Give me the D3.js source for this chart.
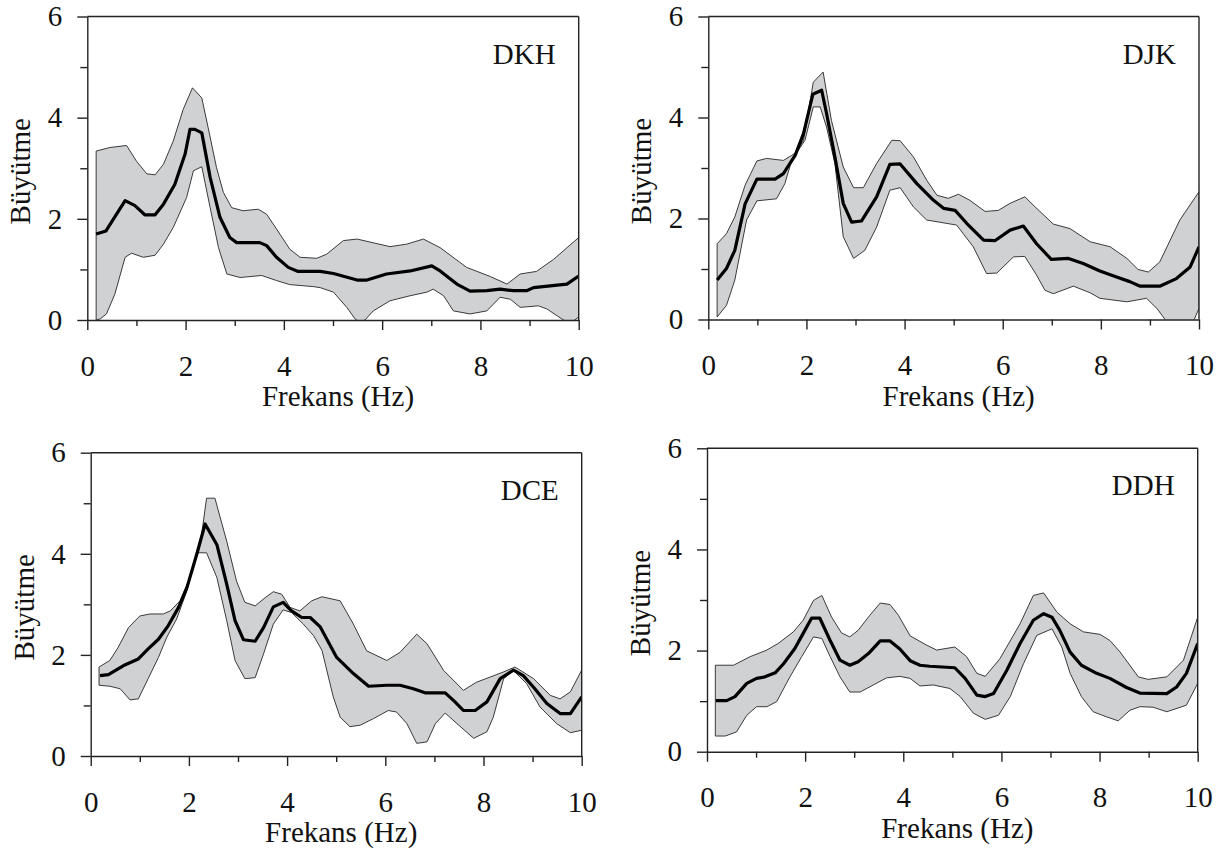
<!DOCTYPE html>
<html>
<head>
<meta charset="utf-8">
<script src="https://cdn.jsdelivr.net/npm/d3@7"></script>
<style>
  html, body { margin: 0; padding: 0; background: #fff; }
  svg { display: block; }
  text { font-family: "Liberation Serif", "Times New Roman", serif; fill: #111; }
</style>
</head>
<body>
<svg id="chart" width="1224" height="855"></svg>
<script>
// ---------------- DATA ----------------
const xTickValues = [0, 2, 4, 6, 8, 10];
const xMinorTicks = [1, 3, 5, 7, 9];
const yTickValues = [0, 2, 4, 6];
const yMinorTicks = [1, 3, 5];
const xTitle = "Frekans (Hz)";
const yTitle = "Büyütme";
const stationNames = ["DKH", "DJK", "DCE", "DDH"];

const dkhMean = [[0.18,1.70],[0.38,1.76],[0.77,2.36],[0.97,2.26],[1.17,2.08],[1.38,2.08],[1.55,2.29],[1.78,2.68],[1.99,3.28],[2.09,3.77],[2.19,3.77],[2.33,3.70],[2.50,2.82],[2.70,2.03],[2.90,1.63],[3.04,1.53],[3.51,1.53],[3.65,1.47],[3.85,1.24],[4.09,1.04],[4.29,0.96],[4.74,0.96],[5.01,0.92],[5.49,0.79],[5.69,0.79],[6.09,0.91],[6.57,0.97],[7.01,1.07],[7.18,0.97],[7.52,0.71],[7.79,0.57],[8.13,0.58],[8.40,0.61],[8.67,0.58],[8.94,0.58],[9.08,0.64],[9.76,0.71],[10.0,0.87]];
const dkhUpper = [[0.18,3.34],[0.46,3.41],[0.80,3.45],[1.0,3.14],[1.21,2.89],[1.38,2.87],[1.55,3.08],[1.75,3.54],[1.95,4.16],[2.14,4.59],[2.33,4.39],[2.46,3.80],[2.63,3.01],[2.77,2.52],[2.94,2.22],[3.17,2.16],[3.48,2.19],[3.65,2.09],[3.85,1.80],[4.12,1.40],[4.33,1.24],[4.67,1.22],[4.87,1.30],[5.21,1.57],[5.49,1.60],[6.16,1.45],[6.50,1.50],[6.84,1.60],[7.18,1.43],[7.72,1.04],[8.20,0.86],[8.54,0.71],[8.81,0.91],[9.14,0.96],[9.49,1.20],[10.0,1.63]];
const dkhLower = [[0.18,0],[0.26,0.02],[0.39,0.12],[0.56,0.51],[0.77,1.24],[0.90,1.32],[1.14,1.24],[1.38,1.28],[1.55,1.50],[1.75,1.83],[2.02,2.42],[2.16,2.95],[2.33,3.03],[2.50,2.22],[2.67,1.43],[2.84,0.91],[3.11,0.84],[3.55,0.88],[3.85,0.78],[4.12,0.70],[4.60,0.66],[4.74,0.64],[5.01,0.55],[5.28,0.25],[5.45,0.02],[5.55,-0.04],[5.65,0.0],[5.82,0.18],[6.16,0.38],[6.57,0.48],[6.91,0.55],[7.04,0.61],[7.25,0.48],[7.45,0.18],[7.79,0.12],[8.13,0.18],[8.40,0.45],[8.61,0.41],[8.81,0.25],[9.18,0.28],[9.35,0.22],[9.69,0],[9.85,-0.05],[10.0,0.06]];

const djkMean = [[0.18,0.78],[0.37,1.01],[0.54,1.37],[0.75,2.29],[0.99,2.78],[1.36,2.78],[1.53,2.89],[1.77,3.25],[1.94,3.68],[2.13,4.46],[2.31,4.54],[2.41,4.08],[2.58,3.22],[2.75,2.30],[2.92,1.93],[3.12,1.95],[3.43,2.43],[3.70,3.07],[3.91,3.08],[4.25,2.69],[4.59,2.36],[4.80,2.20],[5.03,2.16],[5.27,1.90],[5.61,1.57],[5.84,1.56],[6.15,1.77],[6.42,1.85],[6.69,1.50],[6.99,1.19],[7.34,1.21],[7.64,1.11],[7.98,0.96],[8.32,0.84],[8.59,0.75],[8.80,0.66],[9.20,0.66],[9.54,0.81],[9.82,1.04],[10.0,1.44]];
const djkUpper = [[0.18,1.50],[0.37,1.70],[0.54,2.03],[0.75,2.66],[0.99,3.14],[1.19,3.19],[1.53,3.15],[1.70,3.25],[1.80,3.32],[1.94,3.55],[2.14,4.70],[2.34,4.90],[2.51,3.94],[2.75,3.02],[2.96,2.61],[3.16,2.61],[3.43,3.09],[3.74,3.55],[3.91,3.54],[4.18,3.22],[4.45,2.76],[4.66,2.46],[4.89,2.40],[5.10,2.48],[5.33,2.36],[5.64,2.14],[5.91,2.16],[6.15,2.30],[6.45,2.43],[6.66,2.23],[7.03,1.89],[7.37,1.80],[7.78,1.54],[8.19,1.44],[8.53,1.21],[8.76,0.99],[8.97,0.94],[9.20,1.14],[9.61,1.97],[10.0,2.53]];
const djkLower = [[0.18,0.05],[0.37,0.28],[0.54,0.78],[0.78,1.97],[0.99,2.35],[1.39,2.39],[1.56,2.69],[1.70,3.15],[1.97,3.55],[2.14,4.21],[2.28,4.21],[2.41,3.81],[2.58,3.09],[2.75,1.64],[2.96,1.21],[3.19,1.37],[3.43,1.83],[3.70,2.56],[3.91,2.61],[4.18,2.23],[4.45,1.97],[5.06,1.87],[5.40,1.44],[5.67,0.91],[5.88,0.92],[6.22,1.24],[6.45,1.25],[6.69,0.88],[6.86,0.58],[7.03,0.51],[7.44,0.66],[7.78,0.53],[7.98,0.42],[8.53,0.35],[8.93,0.42],[9.14,0.22],[9.31,0.0],[9.6,-0.3],[9.88,-0.05],[10.0,0.22]];

const dceMean = [[0.19,1.59],[0.36,1.61],[0.67,1.79],[0.97,1.92],[1.17,2.12],[1.38,2.31],[1.58,2.58],[1.79,2.94],[1.96,3.33],[2.16,3.99],[2.33,4.59],[2.57,4.18],[2.77,3.40],[2.94,2.68],[3.11,2.30],[3.35,2.27],[3.52,2.54],[3.72,2.95],[3.92,3.04],[4.09,2.87],[4.30,2.74],[4.47,2.74],[4.67,2.56],[5.01,1.95],[5.35,1.63],[5.66,1.38],[6.03,1.40],[6.30,1.40],[6.57,1.33],[6.81,1.25],[7.22,1.25],[7.42,1.07],[7.59,0.90],[7.83,0.90],[8.07,1.07],[8.34,1.53],[8.61,1.70],[8.81,1.59],[9.02,1.36],[9.29,1.04],[9.56,0.84],[9.77,0.84],[10.0,1.17]];
const dceUpper = [[0.17,1.76],[0.39,1.89],[0.56,2.15],[0.77,2.54],[1.00,2.77],[1.21,2.81],[1.48,2.81],[1.62,2.87],[1.82,3.07],[2.02,3.53],[2.23,4.18],[2.36,5.10],[2.53,5.10],[2.77,4.25],[2.97,3.46],[3.14,3.04],[3.35,2.97],[3.55,3.13],[3.72,3.25],[3.89,3.20],[4.06,2.94],[4.26,2.87],[4.50,3.07],[4.71,3.15],[5.08,3.07],[5.35,2.61],[5.62,2.08],[6.03,1.89],[6.30,2.05],[6.64,2.41],[6.85,2.22],[7.19,1.69],[7.59,1.30],[7.86,1.46],[8.13,1.56],[8.40,1.66],[8.64,1.76],[9.02,1.53],[9.36,1.20],[9.56,1.13],[9.77,1.27],[10.0,1.70]];
const dceLower = [[0.17,1.40],[0.39,1.38],[0.60,1.33],[0.80,1.11],[0.97,1.13],[1.17,1.53],[1.38,1.95],[1.55,2.35],[1.75,2.71],[1.96,3.27],[2.16,4.02],[2.36,4.02],[2.57,3.53],[2.77,2.68],[2.94,1.89],[3.14,1.53],[3.35,1.55],[3.52,2.02],[3.72,2.61],[3.92,2.89],[4.09,2.84],[4.33,2.61],[4.54,2.38],[4.71,2.09],[4.94,1.17],[5.08,0.77],[5.28,0.58],[5.49,0.61],[5.76,0.74],[6.06,0.90],[6.23,0.87],[6.44,0.64],[6.64,0.25],[6.85,0.28],[7.02,0.64],[7.22,0.85],[7.46,0.64],[7.80,0.35],[8.07,0.48],[8.20,0.77],[8.41,1.53],[8.61,1.69],[8.88,1.43],[9.15,0.97],[9.49,0.64],[9.77,0.46],[10.0,0.51]];

const ddhMean = [[0.18,1.01],[0.40,1.01],[0.57,1.09],[0.81,1.35],[1.01,1.45],[1.18,1.48],[1.39,1.56],[1.56,1.74],[1.79,2.04],[1.96,2.34],[2.13,2.64],[2.30,2.64],[2.51,2.20],[2.71,1.81],[2.91,1.71],[3.08,1.78],[3.29,1.94],[3.53,2.19],[3.73,2.19],[3.93,2.03],[4.14,1.80],[4.34,1.71],[4.54,1.69],[5.05,1.66],[5.26,1.45],[5.50,1.12],[5.67,1.09],[5.84,1.15],[6.11,1.61],[6.38,2.14],[6.65,2.60],[6.86,2.73],[7.03,2.66],[7.19,2.40],[7.40,1.97],[7.63,1.71],[7.94,1.55],[8.21,1.45],[8.55,1.27],[8.82,1.16],[9.37,1.15],[9.57,1.28],[9.77,1.55],[10.0,2.14]];
const ddhUpper = [[0.17,1.71],[0.54,1.71],[0.88,1.88],[1.22,2.01],[1.45,2.14],[1.76,2.37],[1.96,2.60],[2.17,2.99],[2.34,3.09],[2.54,2.66],[2.74,2.35],[2.91,2.27],[3.08,2.40],[3.32,2.70],[3.53,2.94],[3.73,2.91],[3.90,2.70],[4.14,2.29],[4.47,2.11],[4.68,2.01],[5.05,2.07],[5.29,1.88],[5.50,1.55],[5.67,1.49],[5.97,1.84],[6.38,2.53],[6.65,3.09],[6.86,3.14],[7.13,2.76],[7.40,2.53],[7.67,2.37],[8.01,2.32],[8.21,2.20],[8.42,1.97],[8.79,1.48],[8.99,1.43],[9.37,1.48],[9.71,1.81],[10.0,2.66]];
const ddhLower = [[0.17,0.31],[0.37,0.31],[0.60,0.39],[0.81,0.72],[1.01,0.89],[1.22,0.89],[1.42,0.99],[1.69,1.48],[1.93,1.88],[2.17,2.27],[2.34,2.24],[2.51,1.88],[2.71,1.48],[2.91,1.18],[3.12,1.18],[3.39,1.32],[3.66,1.46],[3.93,1.49],[4.14,1.45],[4.34,1.30],[4.61,1.32],[4.95,1.25],[5.16,1.09],[5.43,0.76],[5.67,0.64],[5.94,0.72],[6.18,1.09],[6.45,1.74],[6.72,2.30],[7.03,2.43],[7.23,2.07],[7.40,1.55],[7.63,1.09],[7.87,0.79],[8.14,0.69],[8.38,0.61],[8.62,0.82],[8.82,0.89],[9.09,0.88],[9.37,0.79],[9.77,0.92],[10.0,1.35]];

const seriesMean  = [dkhMean, djkMean, dceMean, ddhMean];
const seriesUpper = [dkhUpper, djkUpper, dceUpper, ddhUpper];
const seriesLower = [dkhLower, djkLower, dceLower, ddhLower];

// ---------------- LAYOUT ----------------
const panelBoxes = [
  { left: 87.3,  right: 578.7,  top: 16.5,  bottom: 320.0 },
  { left: 708.3, right: 1199.0, top: 16.5,  bottom: 319.5 },
  { left: 90.7,  right: 581.7,  top: 452.7, bottom: 756.0 },
  { left: 707.0, right: 1197.7, top: 448.3, bottom: 751.7 }
];
const FONT = 29;
const frameColor = "#222";

const svg = d3.select("#chart");

panelBoxes.forEach((b, i) => {
  const x = d3.scaleLinear().domain([0, 10]).range([b.left, b.right]);
  const y = d3.scaleLinear().domain([0, 6]).range([b.bottom, b.top]);
  const g = svg.append("g");

  const clipId = "clip" + i;
  svg.append("defs").append("clipPath").attr("id", clipId)
    .append("rect").attr("x", b.left).attr("y", b.top)
    .attr("width", b.right - b.left).attr("height", b.bottom - b.top);

  const line = d3.line().x(d => x(d[0])).y(d => y(d[1]));
  const bandPts = seriesUpper[i].concat(seriesLower[i].slice().reverse());

  const plot = g.append("g").attr("clip-path", `url(#${clipId})`);
  plot.append("path")
    .attr("d", line(bandPts) + "Z")
    .attr("fill", "#d0d1d3")
    .attr("stroke", "#3a3a3a")
    .attr("stroke-width", 1)
    .attr("stroke-linejoin", "round");
  plot.append("path")
    .attr("d", line(seriesMean[i]))
    .attr("fill", "none")
    .attr("stroke", "#000")
    .attr("stroke-width", 3.2)
    .attr("stroke-linejoin", "round");

  // frame top + right
  g.append("line").attr("x1", b.left).attr("x2", b.right).attr("y1", b.top).attr("y2", b.top)
    .attr("stroke", frameColor).attr("stroke-width", 1.4);
  g.append("line").attr("x1", b.right).attr("x2", b.right).attr("y1", b.top).attr("y2", b.bottom)
    .attr("stroke", frameColor).attr("stroke-width", 1.4);

  // x axes (major with labels, minor without)
  const xMajor = g.append("g").attr("transform", `translate(0,${b.bottom})`)
    .call(d3.axisBottom(x).tickValues(xTickValues).tickSize(10).tickSizeOuter(0).tickPadding(25).tickFormat(d3.format("d")));
  const xMinor = g.append("g").attr("transform", `translate(0,${b.bottom})`)
    .call(d3.axisBottom(x).tickValues(xMinorTicks).tickSize(6).tickSizeOuter(0).tickFormat(""));
  xMinor.select(".domain").remove();

  const yMajor = g.append("g").attr("transform", `translate(${b.left},0)`)
    .call(d3.axisLeft(y).tickValues(yTickValues).tickSize(10).tickSizeOuter(0).tickPadding(15).tickFormat(d3.format("d")));
  const yMinor = g.append("g").attr("transform", `translate(${b.left},0)`)
    .call(d3.axisLeft(y).tickValues(yMinorTicks).tickSize(7).tickSizeOuter(0).tickFormat(""));
  yMinor.select(".domain").remove();

  [xMajor, xMinor, yMajor, yMinor].forEach(a => {
    a.selectAll("path, line").attr("stroke", frameColor).attr("stroke-width", 1.4);
    a.selectAll("text").attr("font-family", "Liberation Serif, serif").attr("font-size", FONT).attr("fill", "#111");
  });

  // axis titles
  g.append("text")
    .attr("x", (b.left + b.right) / 2 + 5)
    .attr("y", b.bottom + 86)
    .attr("text-anchor", "middle")
    .attr("font-size", FONT)
    .text(xTitle);
  g.append("text")
    .attr("transform", `translate(${b.left - 67},${(b.top + b.bottom) / 2 + 3}) rotate(-90)`)
    .attr("text-anchor", "middle")
    .attr("dominant-baseline", "central")
    .attr("font-size", FONT)
    .text(yTitle);

  // station label
  g.append("text")
    .attr("x", b.right - 23)
    .attr("y", b.top + 47)
    .attr("text-anchor", "end")
    .attr("font-size", FONT)
    .text(stationNames[i]);
});
</script>
</body>
</html>
